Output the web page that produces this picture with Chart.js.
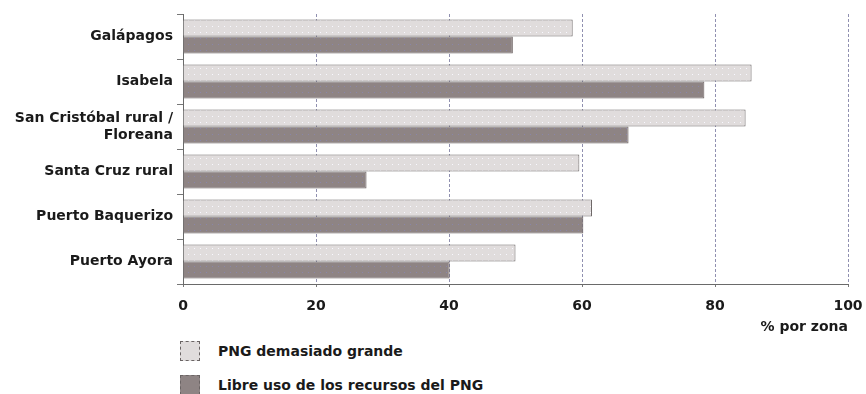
<!DOCTYPE html>
<html>
<head>
<meta charset="utf-8">
<script src="https://cdn.jsdelivr.net/npm/chart.js@4"></script>
<style>
  body { margin: 0; background: #fff; }
  #wrap { position: relative; width: 866px; height: 394px; overflow: hidden; }
  #grafico { position: absolute; left: 0; top: 0; }
  .leg { position: absolute; left: 180px; font: bold 14px "DejaVu Sans", sans-serif; color: #1a1a1a; }
  .leg span.caja { position: absolute; left: 0; width: 20px; height: 20px; box-sizing: border-box; border: 1px dashed #6a6464; }
  .leg span.txt { position: absolute; left: 38px; white-space: nowrap; line-height: 20px; }
</style>
</head>
<body>
<div id="wrap">
  <canvas id="grafico" width="866" height="340"></canvas>
  <div class="leg" style="top:341px"><span class="caja" style="background:#e0dcdc"></span><span class="txt" id="leg1"></span></div>
  <div class="leg" style="top:375px"><span class="caja" style="background:#8e8484"></span><span class="txt" id="leg2"></span></div>
</div>
<script>
var zonas = ["Galápagos", "Isabela", ["San Cristóbal rural /", "Floreana"], "Santa Cruz rural", "Puerto Baquerizo", "Puerto Ayora"];
var pngGrande = [58.6, 85.5, 84.6, 59.6, 61.5, 50.0];
var libreUso = [49.6, 78.4, 67.0, 27.6, 60.2, 40.1];
var serieNombres = ["PNG demasiado grande", "Libre uso de los recursos del PNG"];
var ticksX = [0, 20, 40, 60, 80, 100];
var tituloX = "% por zona";

document.getElementById("leg1").textContent = serieNombres[0];
document.getElementById("leg2").textContent = serieNombres[1];

// relleno punteado de las barras
function patron(fondo, punto) {
	var c = document.createElement("canvas");
	c.width = 6; c.height = 6;
	var g = c.getContext("2d");
	g.fillStyle = fondo;
	g.fillRect(0, 0, 6, 6);
	g.fillStyle = punto;
	g.fillRect(2, 2, 1, 1);
	return g.createPattern(c, "repeat");
}

var ctx = document.getElementById("grafico").getContext("2d");
var fuente = { family: "DejaVu Sans", size: 14, weight: "bold" };

var grafico = new Chart(ctx, {
	type: "bar",
	data: {
		labels: zonas,
		datasets: [{
			label: serieNombres[0],
			data: pngGrande,
			backgroundColor: patron("#e0dcdc", "#f8f8ff"),
			borderColor: "#6a6464",
			borderWidth: 1,
			categoryPercentage: 0.76,
			barPercentage: 1
		}, {
			label: serieNombres[1],
			data: libreUso,
			backgroundColor: patron("#8e8484", "#8a86a8"),
			borderColor: "#6a6060",
			borderWidth: 1,
			categoryPercentage: 0.76,
			barPercentage: 1
		}]
	},
	options: {
		indexAxis: "y",
		responsive: false,
		animation: false,
		layout: { padding: { top: 14, right: 18, left: 0, bottom: 0 } },
		plugins: { legend: { display: false }, tooltip: { enabled: false } },
		scales: {
			x: {
				min: 0,
				max: 100,
				afterBuildTicks: function (s) { s.ticks = ticksX.map(function (v) { return { value: v }; }); },
				afterFit: function (s) { s.height = 56; s.paddingRight = 0; s.paddingLeft = 0; },
				ticks: { color: "#1a1a1a", font: fuente, padding: 9 },
				grid: { color: "#9090b0", lineWidth: 1, tickLength: 5, tickBorderDash: [2, 2], tickColor: "#777" },
				border: { color: "#6a6a6a", dash: [3, 2] },
				title: { display: true, text: tituloX, align: "end", color: "#1a1a1a", font: fuente, padding: { top: 7 } }
			},
			y: {
				afterFit: function (s) { s.width = 183; },
				ticks: { color: "#1a1a1a", font: fuente, padding: 4 },
				grid: { offset: true, drawOnChartArea: false, tickLength: 6, color: "#777" },
				border: { color: "#6a6a6a", dash: [3, 2] }
			}
		}
	}
});
</script>
</body>
</html>
